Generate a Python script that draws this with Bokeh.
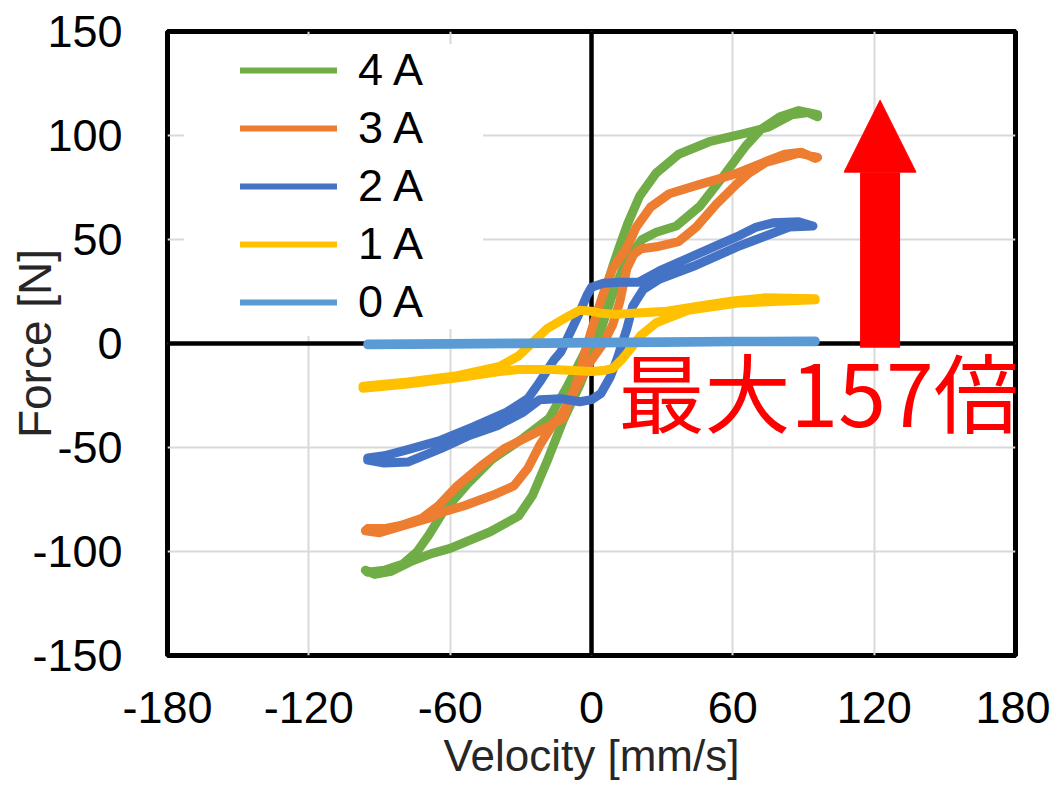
from bokeh.plotting import figure
from bokeh.models import (FixedTicker, Span, Legend, LegendItem, Label, Arrow,
                          NormalHead, BoxAnnotation, Range1d)
from bokeh.embed import file_html
from bokeh.resources import INLINE

# ---------------- data ----------------
X_TICKS = [-180, -120, -60, 0, 60, 120, 180]
Y_TICKS = [-150, -100, -50, 0, 50, 100, 150]
X_LABEL = "Velocity [mm/s]"
Y_LABEL = "Force [N]"
SERIES = ["4 A", "3 A", "2 A", "1 A", "0 A"]
COLORS = ["#70AD47", "#ED7D31", "#4472C4", "#FFC000", "#5B9BD5"]

# 4 A
V4_UP = [-95, -88, -80, -74, -69, -63, -53, -42, -29, -18, -10, -5, -1, 3, 9, 12, 15.5, 20.5, 27.5, 37, 50, 65, 75, 85, 92, 96]
F4_UP = [-110, -109, -106, -100, -92, -81, -68, -55.5, -45.5, -36, -20, -9, 0, 15, 37, 47, 58, 71, 82, 91, 97, 101, 104, 110, 111, 109]
V4_DN = [-96, -92, -85, -77, -68, -60, -43, -31, -25, -19, -12, -5, 0, 2, 5, 9, 13, 17.5, 21.5, 27.5, 36, 46, 57, 65.5, 72, 80, 88, 96]
F4_DN = [-109, -111, -109.5, -105, -101, -98.5, -90.5, -83, -73, -57, -37, -20, -6, 0, 10, 24, 35, 44, 50, 53.5, 56.5, 66, 82, 95, 103, 109, 112, 110]
# 3 A
V3_UP = [-95, -88, -81, -72, -65, -57, -47, -37, -23, -12, -6, -3, 1.5, 5, 9, 15, 19, 25, 33, 46, 61, 74, 82, 89, 95]
F3_UP = [-89, -89, -87.5, -84, -78, -68.5, -59, -50.5, -42.5, -36, -18, -5, 12, 24, 36, 46, 56, 65.5, 72, 76.5, 81.5, 87.5, 91, 92, 89]
V3_DN = [-96, -90, -81, -69, -63, -54, -42, -33, -27, -22, -17, -12, -6, 0, 5, 9, 12, 15, 18, 21, 27.5, 37, 44.5, 53, 61.5, 67, 74, 88, 96]
F3_DN = [-90, -91, -88, -84, -81, -78, -73, -68.5, -60, -49, -40, -33, -20, -8, 0, 9, 20, 36, 43, 45.5, 46.5, 49, 56, 67, 76.5, 82, 87, 91.5, 89.5]
# 2 A
V2_UP = [-95, -88, -78, -64, -50, -36, -27, -22, -16, -13, -10, -5, -2, 0, 5, 12, 20, 29, 43, 55, 63, 70, 77, 88, 94]
F2_UP = [-55, -54, -51, -46.5, -40, -33, -26.5, -18.5, -8, -4, 3, 15, 23, 27, 29, 29.5, 29.5, 35, 42, 48, 52, 56, 58, 58.5, 56.5]
V2_DN = [-95, -88, -78, -64, -52.5, -40, -29, -22, -13, -5, 0, 4, 8, 11, 15, 17.5, 22, 29, 43, 63, 77, 84, 94]
F2_DN = [-56, -57.5, -57, -50.5, -44.5, -39.5, -33, -27, -26.5, -28, -27, -24, -16, -7, 7, 18, 26, 31, 37, 47, 53, 56, 56.5]
# 1 A
V1_UP = [-97, -78, -57, -39, -31, -25, -19, -10, -5, 0, 4, 10, 17.5, 32, 46, 60, 74, 95]
F1_UP = [-20.5, -18.5, -15.5, -11, -6, 0.5, 7, 13, 16, 15.5, 14.5, 14, 14.5, 15.5, 18, 20.5, 22, 21.5]
V1_DN = [-97, -78, -57, -39, -31, -16, 0, 5, 9, 13, 17, 21, 27.5, 41, 62, 95]
F1_DN = [-21.5, -19.5, -16.5, -13.5, -12.5, -12.5, -13.5, -13, -12, -7.5, -2, 4, 10, 16, 19.5, 21]
# 0 A
V0_UP = [-95, -60, -30, 0, 30, 60, 95]
F0_UP = [-0.3, 0, 0.3, 0.6, 0.9, 1.1, 1.2]
V0_DN = [-95, -60, -30, 0, 30, 60, 95]
F0_DN = [-0.6, -0.4, -0.1, 0.2, 0.5, 0.8, 0.9]

LOOPS = [(V4_UP, F4_UP, V4_DN, F4_DN), (V3_UP, F3_UP, V3_DN, F3_DN),
         (V2_UP, F2_UP, V2_DN, F2_DN), (V1_UP, F1_UP, V1_DN, F1_DN),
         (V0_UP, F0_UP, V0_DN, F0_DN)]

ANNOT_TEXT = "最大157倍"
ARROW_X, ARROW_Y0, ARROW_Y1 = 122.5, -2, 117
TEXT_X, TEXT_Y = 11.5, -22

FONT = "Liberation Sans"

# ---------------- figure ----------------
p = figure(width=1050, height=782, output_backend="svg", toolbar_location=None,
           x_range=Range1d(-180, 180), y_range=Range1d(-150, 150),
           min_border_left=167, min_border_right=35, min_border_top=31,
           min_border_bottom=125)
p.background_fill_color = "white"
p.border_fill_color = "white"
p.outline_line_color = "black"
p.outline_line_width = 5

for ax, ticks in ((p.xaxis, X_TICKS), (p.yaxis, Y_TICKS)):
    ax.ticker = FixedTicker(ticks=ticks)
    ax.major_label_overrides = {t: str(t) for t in ticks}
    ax.axis_line_color = None
    ax.major_tick_line_color = None
    ax.minor_tick_line_color = None
    ax.major_tick_out = 0
    ax.major_tick_in = 0
    ax.major_label_text_font = FONT
    ax.major_label_text_font_size = "45px"
    ax.major_label_text_color = "black"
    ax.axis_label_text_font = FONT
    ax.axis_label_text_font_style = "normal"
    ax.axis_label_text_color = "#262626"

p.xaxis.axis_label = X_LABEL
p.yaxis.axis_label = Y_LABEL
p.xaxis.major_label_standoff = 36
p.yaxis.major_label_standoff = 45
p.xaxis.axis_label_text_font_size = "44px"
p.yaxis.axis_label_text_font_size = "46px"
p.xaxis.axis_label_standoff = 5
p.yaxis.axis_label_standoff = -32

p.xgrid.ticker = FixedTicker(ticks=X_TICKS)
p.ygrid.ticker = FixedTicker(ticks=Y_TICKS)
for g in (p.xgrid, p.ygrid):
    g.grid_line_color = "#D9D9D9"
    g.grid_line_width = 2

# white area behind the legend (hides gridlines like the original)
p.add_layout(BoxAnnotation(left=-173, right=-46, top=144, bottom=7,
                           fill_color="white", fill_alpha=1.0, line_alpha=0,
                           level="underlay"))

p.add_layout(Span(location=0, dimension="height", line_color="black",
                  line_width=4.5, level="underlay"))
p.add_layout(Span(location=0, dimension="width", line_color="black",
                  line_width=4.5, level="underlay"))

items = []
for name, color, (vu, fu, vd, fd) in zip(SERIES, COLORS, LOOPS):
    xs = vu + vd[::-1] + [vu[0]]
    ys = fu + fd[::-1] + [fu[0]]
    p.line(xs, ys, line_color=color, line_width=9, line_join="round",
           line_cap="round")
    key = p.line(xs, ys, line_color=color, line_width=6, line_cap="round",
                 visible=False)
    items.append(LegendItem(label=name, renderers=[key]))

legend = Legend(items=items, location=(65, 319), orientation="vertical",
                label_text_font=FONT, label_text_font_size="45px",
                label_text_color="black",
                glyph_width=97, glyph_height=52, label_height=52,
                label_standoff=21, spacing=6, padding=8, margin=0,
                background_fill_color="white", background_fill_alpha=1.0,
                border_line_alpha=0)
p.add_layout(legend)

p.add_layout(Arrow(end=NormalHead(size=72, fill_color="#FF0000",
                                  line_color="#FF0000", line_width=1),
                   x_start=ARROW_X, y_start=ARROW_Y0, x_end=ARROW_X, y_end=ARROW_Y1,
                   line_color="#FF0000", line_width=40, line_cap="butt"))

p.add_layout(Label(x=TEXT_X, y=TEXT_Y, text=ANNOT_TEXT, text_color="#FF0000",
                   text_font="Noto Sans CJK JP", text_font_size="86px",
                   text_baseline="alphabetic", text_align="left"))

open("out.html", "w").write(file_html(p, INLINE))
